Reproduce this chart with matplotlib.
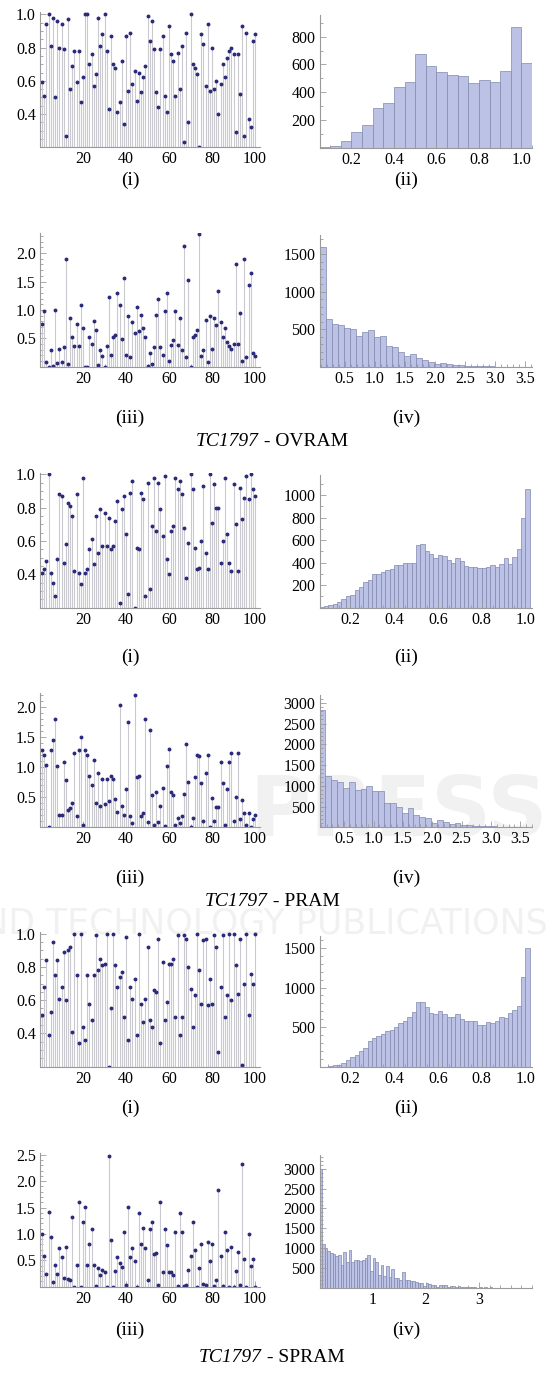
import numpy as np
import matplotlib.pyplot as plt
from matplotlib.ticker import FixedLocator, MultipleLocator, FormatStrFormatter

plt.rcParams['font.family'] = ['Liberation Serif', 'DejaVu Serif']

W, H = 547, 1376

##############################
## data
idx = np.arange(1, 101)

ovram_i = [0.59,0.51,0.94,1.0,0.81,0.98,0.50,0.96,0.80,0.94, 0.79,0.27,0.97,0.55,0.69,0.78,0.59,0.78,0.47,0.62,
           1.0,1.0,0.70,0.76,0.57,0.64,0.98,0.81,0.88,1.0, 0.78,0.43,0.87,0.70,0.68,0.41,0.47,0.72,0.34,0.87,
           0.54,0.89,0.58,0.66,0.48,0.65,0.53,0.62,0.69,0.99, 0.84,0.96,0.79,0.53,0.44,0.79,0.87,0.51,0.41,0.93,
           0.76,0.72,0.51,0.77,0.55,0.81,0.23,0.89,0.35,1.0, 0.70,0.68,0.64,0.20,0.88,0.82,0.57,0.94,0.54,0.80,
           0.55,0.60,0.40,0.58,0.70,0.62,0.74,0.78,0.80,0.76, 0.29,0.76,0.52,0.93,0.27,0.89,0.37,0.32,0.84,0.88]
ovram_iii = [0.76,0.98,0.09,0.0,0.30,0.02,1.0,0.06,0.32,0.09, 0.34,1.90,0.04,0.86,0.53,0.36,0.76,0.36,1.09,0.69,
             0.0,0.0,0.52,0.40,0.81,0.65,0.03,0.30,0.19,0.0, 0.36,1.22,0.20,0.52,0.56,1.29,1.09,0.48,1.56,0.20,
             0.89,0.17,0.79,0.60,1.06,0.62,0.91,0.69,0.53,0.01, 0.25,0.05,0.34,0.91,1.19,0.34,0.20,0.98,1.29,0.10,
             0.39,0.47,0.98,0.38,0.86,0.30,2.13,0.17,1.52,0.0, 0.52,0.56,0.65,2.33,0.18,0.29,0.82,0.09,0.89,0.32,
             0.86,0.74,1.33,0.79,0.52,0.69,0.43,0.36,0.32,0.40, 1.80,0.40,0.95,0.10,1.90,0.17,1.44,1.65,0.25,0.18]
pram_i = [0.41,0.43,0.48,1.0,0.41,0.35,0.27,0.49,0.88,0.87, 0.47,0.58,0.83,0.81,0.75,0.42,0.88,0.41,0.34,0.98,
          0.41,0.43,0.55,0.61,0.46,0.75,0.53,0.79,0.57,0.77, 0.57,0.74,0.55,0.57,0.72,0.84,0.23,0.79,0.87,0.64,
          0.28,0.89,0.96,0.20,0.56,0.55,0.89,0.85,0.27,0.95, 0.31,0.69,0.98,0.66,0.95,0.79,0.63,0.99,0.49,0.40,
          0.66,0.69,0.98,0.91,0.96,0.88,0.68,0.38,0.59,1.0, 0.91,0.56,0.43,0.44,0.60,0.93,0.53,0.43,1.0,0.71,
          0.94,0.80,0.80,0.47,0.60,0.98,0.64,0.47,0.42,0.94, 0.70,0.42,0.92,0.73,0.86,0.99,0.85,1.0,0.91,0.87]
pram_iii = [1.27,1.19,1.03,0.0,1.27,1.44,1.80,1.01,0.19,0.20, 1.07,0.77,0.27,0.31,0.39,1.23,0.18,1.27,1.49,0.03,
            1.27,1.19,0.84,0.69,1.11,0.40,0.89,0.34,0.79,0.38, 0.79,0.42,0.84,0.79,0.46,0.25,2.02,0.34,0.20,0.63,
            1.75,0.17,0.06,2.20,0.82,0.84,0.17,0.23,1.80,0.07, 1.61,0.52,0.03,0.58,0.08,0.34,0.65,0.01,1.01,1.30,
            0.58,0.52,0.03,0.14,0.06,0.18,0.54,1.37,0.74,0.0, 0.14,0.82,1.19,1.17,0.72,0.10,0.89,1.19,0.0,0.47,
            0.09,0.33,0.33,1.07,0.72,0.03,0.63,1.07,1.23,0.09, 0.49,1.23,0.12,0.44,0.22,0.02,0.23,0.0,0.13,0.20]
spram_i = [0.51,0.68,0.84,0.39,0.53,0.95,0.75,0.84,0.61,0.68, 0.89,0.60,0.90,0.92,0.41,1.0,0.75,0.34,1.0,0.44,
           0.36,0.75,0.58,0.48,0.75,0.99,0.78,0.85,0.81,0.82, 1.0,0.20,0.55,1.0,0.81,0.68,0.74,0.77,0.50,0.98,
           0.36,0.68,0.61,0.73,0.39,1.0,0.58,0.47,0.61,0.92, 0.48,0.44,0.66,0.65,0.97,0.34,0.83,0.48,0.59,0.82,
           0.82,0.85,0.50,0.99,0.39,0.50,0.99,0.97,0.80,0.67, 0.44,0.63,1.0,0.78,0.58,0.96,0.97,0.57,0.73,0.58,
           0.99,0.92,0.29,0.68,0.99,0.50,0.63,1.0,0.60,1.0, 0.81,0.64,0.97,0.21,0.70,1.0,0.51,0.76,0.70,1.0]
spram_iii = [1.0,0.58,0.25,1.41,0.94,0.08,0.41,0.25,0.74,0.56, 0.17,0.76,0.15,0.12,1.33,0.0,0.41,1.60,0.0,1.22,
             1.51,0.41,0.81,1.09,0.41,0.01,0.36,0.23,0.31,0.28, 0.0,2.48,0.89,0.0,0.30,0.56,0.45,0.38,1.03,0.03,
             1.51,0.56,0.74,0.48,0.0,1.39,0.81,1.12,0.74,0.12, 1.09,1.22,0.62,0.64,0.04,1.60,0.27,1.09,0.79,0.28,
             0.28,0.22,1.03,0.01,1.40,1.03,0.02,0.04,0.32,0.59, 1.22,0.69,0.0,0.36,0.81,0.05,0.04,0.84,0.48,0.81,
             0.01,0.12,1.84,0.58,0.02,1.03,0.70,0.0,0.76,0.0, 0.30,0.66,0.04,2.33,0.52,0.0,0.99,0.39,0.52,0.0]

# histograms: (first bin edge, bin width, counts)
ovram_ii = (0.05, 0.05, [5,12,45,110,163,283,320,435,473,673,586,543,521,514,464,490,471,550,872,608])
ovram_iv = (0.08, 0.1, [1600,636,564,551,511,498,413,458,484,396,413,271,258,191,138,164,116,84,67,38,
                        53,42,20,20,11,9,7,4,4,3,2,1,2,1,2])
pram_ii = (0.06, 0.02, [5,10,20,28,52,73,102,108,155,182,224,248,295,295,316,330,342,375,375,400,
                        400,395,552,561,502,472,440,464,462,422,400,437,412,368,357,357,351,348,357,380,
                        362,390,437,383,452,516,792,1056])
pram_iv = (0.08, 0.1, [2830,1234,1138,1090,946,1082,906,930,994,874,882,585,585,497,337,473,297,248,224,104,
                       168,120,80,96,56,48,32,32,24,24,16,8,8,16,10,8])
spram_ii = (0.06, 0.02, [3,5,8,20,30,55,90,130,150,200,240,325,365,390,415,453,466,500,553,579,
                         630,688,817,817,759,679,667,708,667,630,630,667,604,579,579,579,529,529,570,553,
                         579,630,617,679,717,767,1128,1494])
spram_iv = (0.0, 0.05, [3000,1110,1010,930,870,850,810,830,580,890,660,950,640,700,710,680,700,760,820,430,
                        760,660,310,580,290,550,270,480,250,240,200,400,200,190,170,160,140,130,120,40,
                        130,100,80,80,20,80,80,70,20,50,50,20,40,20,20,15,15,10,20,5,
                        15,5,10,5,10,5,5,5,5,5,5,3,5,3,3,3,3,3,3,3])

stem_xticks = [20, 40, 60, 80, 100]
ticks_i = [0.4, 0.6, 0.8, 1.0]
ticks_iii = [0.5, 1.0, 1.5, 2.0]
ticks_iii_s = [0.5, 1.0, 1.5, 2.0, 2.5]
ticks_p = [0.2, 0.4, 0.6, 0.8, 1.0]
ticks_r = [0.5, 1.0, 1.5, 2.0, 2.5, 3.0, 3.5]

##############################
fig = plt.figure(figsize=(W / 100, H / 100), dpi=100)

AXC = '#9a9a9a'
STEMC = '#c9c9cf'
DOTC = '#2b2b7a'
BARC = '#bcc2e6'
EDGEC = '#8088ad'
WMC = '#f1f1f1'

# faint publisher watermark, kept behind the plots
fig.text(548 / W, 1 - 812 / H, 'PRESS', fontsize=60, color=WMC, weight='bold',
         family='DejaVu Sans', ha='right', va='center', zorder=-5)
fig.text(548 / W, 1 - 924 / H, 'SCIENCE AND TECHNOLOGY PUBLICATIONS', fontsize=25, color=WMC,
         family='DejaVu Sans', ha='right', va='center', zorder=-5)


def px_axes(x0, x1, y0, y1):
    return fig.add_axes([x0 / W, 1 - y1 / H, (x1 - x0) / W, (y1 - y0) / H])


def style(ax, xt, yt, xfmt, yfmt, xminor, yminor):
    for s in ['top', 'right']:
        ax.spines[s].set_visible(False)
    for s in ['left', 'bottom']:
        ax.spines[s].set_color(AXC)
        ax.spines[s].set_linewidth(0.8)
    ax.xaxis.set_major_locator(FixedLocator(xt))
    ax.yaxis.set_major_locator(FixedLocator(yt))
    ax.xaxis.set_minor_locator(MultipleLocator(xminor))
    ax.yaxis.set_minor_locator(MultipleLocator(yminor))
    ax.xaxis.set_major_formatter(FormatStrFormatter(xfmt))
    ax.yaxis.set_major_formatter(FormatStrFormatter(yfmt))
    ax.tick_params(which='both', direction='in', color=AXC, labelsize=11.5, pad=3, width=0.6)
    ax.tick_params(which='major', length=4)
    ax.tick_params(which='minor', length=2)
    ax.patch.set_alpha(0)


def stem(box, vals, ylim, yt, yminor):
    ax = px_axes(*box)
    ax.vlines(idx, ylim[0], vals, color=STEMC, lw=0.8)
    ax.plot(idx, vals, 'o', ms=1.8, color=DOTC, mec=DOTC)
    ax.set_xlim(0, 102.3)
    ax.set_ylim(*ylim)
    style(ax, stem_xticks, yt, '%d', '%.1f', 5, yminor)
    return ax


def hist(box, data, xlim, ylim, xt, yt, xfmt, xminor, yminor):
    ax = px_axes(*box)
    start, w, counts = data
    edges = start + w * np.arange(len(counts))
    ax.bar(edges, counts, width=w, align='edge', color=BARC, edgecolor=EDGEC, lw=0.5)
    ax.set_xlim(*xlim)
    ax.set_ylim(*ylim)
    style(ax, xt, yt, xfmt, '%d', xminor, yminor)
    return ax


LX = (40, 260)
RX = (319.5, 532)

# TC1797 - OVRAM
stem((*LX, 12, 147.3), ovram_i, (0.2, 1.014), ticks_i, 0.05)
hist((*RX, 15, 147.7), ovram_ii, (0.05, 1.05), (0, 956), ticks_p, [200, 400, 600, 800], '%.1f', 0.05, 100)
stem((*LX, 232.7, 366.7), ovram_iii, (0, 2.36), ticks_iii, 0.1)
hist((*RX, 235, 366.8), ovram_iv, (0.08, 3.61), (0, 1757), ticks_r, [500, 1000, 1500], '%.1f', 0.1, 100)

# TC1797 - PRAM
stem((*LX, 472.7, 607.7), pram_i, (0.2, 1.01), ticks_i, 0.05)
hist((*RX, 475, 607.5), pram_ii, (0.06, 1.03), (0, 1178), ticks_p, [200, 400, 600, 800, 1000], '%.1f', 0.05, 100)
stem((*LX, 692.7, 826.7), pram_iii, (0, 2.23), ticks_iii, 0.1)
hist((*RX, 695, 827.3), pram_iv, (0.08, 3.70), (0, 3187), ticks_r, [500, 1000, 1500, 2000, 2500, 3000], '%.1f', 0.1, 100)

# TC1797 - SPRAM
stem((*LX, 932, 1066.7), spram_i, (0.2, 1.01), ticks_i, 0.05)
hist((*RX, 936, 1067), spram_ii, (0.06, 1.03), (0, 1648), ticks_p, [500, 1000, 1500], '%.1f', 0.05, 100)
stem((*LX, 1152.7, 1286.7), spram_iii, (0, 2.54), ticks_iii_s, 0.1)
hist((*RX, 1155, 1287.7), spram_iv, (0, 4.0), (0, 3350), [1, 2, 3], [500, 1000, 1500, 2000, 2500, 3000], '%d', 0.2, 100)

# panel labels
labels = [('(i)', 130, 180), ('(ii)', 406, 180), ('(iii)', 130, 418), ('(iv)', 406, 418),
          ('(i)', 130, 657), ('(ii)', 406, 657), ('(iii)', 130, 878), ('(iv)', 406, 878),
          ('(i)', 130, 1108), ('(ii)', 406, 1108), ('(iii)', 130, 1330), ('(iv)', 406, 1330)]
for t, x, y in labels:
    fig.text(x / W, 1 - y / H, t, fontsize=14, ha='center', va='center')

# captions: italic part + plain part, centred together
fig.canvas.draw()
r = fig.canvas.get_renderer()
for name, y in [('OVRAM', 441), ('PRAM', 902), ('SPRAM', 1358)]:
    t1 = fig.text(0, 1 - y / H, 'TC1797', style='italic', fontsize=14, ha='left', va='center')
    t2 = fig.text(0, 1 - y / H, ' - ' + name, fontsize=14, ha='left', va='center')
    w1 = t1.get_window_extent(r).width
    w2 = t2.get_window_extent(r).width
    x0 = 272 - (w1 + w2) / 2
    t1.set_x(x0 / W)
    t2.set_x((x0 + w1) / W)

fig.savefig('out.png', dpi=100)
